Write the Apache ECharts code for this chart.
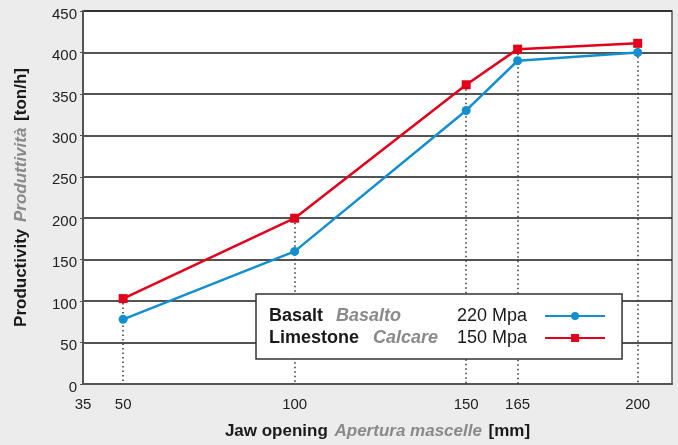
<!DOCTYPE html>
<html>
<head>
<meta charset="utf-8">
<script src="https://cdn.jsdelivr.net/npm/echarts@6/dist/echarts.min.js"></script>
<style>
  html, body { margin: 0; padding: 0; background: #ebeceb; }
  #chart { width: 678px; height: 445px; }
</style>
</head>
<body>
<div id="chart"></div>
<script>
// jaw opening [mm]
const jawOpening = [50, 100, 150, 165, 200];
// productivity [ton/h]
const basalt = [78, 160, 330, 390, 400];
const limestone = [103, 200, 361, 404, 411];
// x axis: left edge of the plot is labelled "35"
const xMin = 38.3;
const xMax = 210;
const xTickValues = [xMin, 50, 100, 150, 165, 200];
const xTickLabels = ["35", "50", "100", "150", "165", "200"];

const FONT = "Liberation Sans";
const blue = "#128ed1";
const red = "#e3001b";

const chart = echarts.init(document.getElementById("chart"));

const toPairs = (ys) => jawOpening.map((x, i) => [x, ys[i]]);
// dotted drop lines from the top point down to the x axis
const dropLines = jawOpening.map((x, i) => [
  { coord: [x, Math.max(basalt[i], limestone[i])] },
  { coord: [x, 0] },
]);

// legend text: english (bold), italian (italic grey), strength
const legendInfo = {
  Basalt: { it: "Basalto", mpa: "220 Mpa", key: "B" },
  Limestone: { it: "Calcare", mpa: "150 Mpa", key: "L" },
};

const nameRich = {
  b: { fontFamily: FONT, fontSize: 17, fontWeight: "bold", color: "#1a1a1a" },
  i: { fontFamily: FONT, fontSize: 17, fontWeight: "bold", fontStyle: "italic", color: "#8a8a8a" },
};

const legBold = { fontFamily: FONT, fontSize: 18, fontWeight: "bold", color: "#1a1a1a", lineHeight: 18, align: "left" };
const legIt = { fontFamily: FONT, fontSize: 18, fontWeight: "bold", fontStyle: "italic", color: "#8a8a8a", lineHeight: 18, align: "left" };

const option = {
  backgroundColor: "#ebeceb",
  animation: false,
  textStyle: { fontFamily: FONT },
  grid: {
    left: 83,
    right: 6,
    top: 11,
    bottom: 58,
    show: true,
    backgroundColor: "#ffffff",
    borderColor: "#555",
    borderWidth: 1.5,
  },
  xAxis: {
    type: "value",
    min: xMin,
    max: xMax,
    name: "{b|Jaw opening}  {i|Apertura mascelle}  {b|[mm]}",
    nameLocation: "middle",
    nameGap: 39,
    nameTextStyle: { rich: nameRich },
    axisLine: { show: true, lineStyle: { color: "#555", width: 2 } },
    axisTick: { show: false },
    splitLine: { show: false },
    axisLabel: {
      customValues: xTickValues,
      formatter: (v) => {
        const idx = xTickValues.findIndex((t) => Math.abs(t - v) < 1e-6);
        return idx >= 0 ? xTickLabels[idx] : "";
      },
      margin: 13,
      fontSize: 15,
      color: "#222",
      fontFamily: FONT,
    },
  },
  yAxis: {
    type: "value",
    min: 0,
    max: 450,
    interval: 50,
    name: "{b|Productivity}  {i|Produttività}  {b|[ton/h]}",
    nameLocation: "middle",
    nameGap: 53,
    nameRotate: 90,
    nameTextStyle: { rich: nameRich },
    axisLine: { show: true, lineStyle: { color: "#555", width: 2 } },
    axisTick: { show: true, length: 3, lineStyle: { color: "#555" } },
    splitLine: { show: true, lineStyle: { color: "#1a1a1a", width: 1.5 } },
    axisLabel: {
      margin: 6,
      formatter: (v) => "{n|" + v + "}",
      rich: {
        n: { fontSize: 15, color: "#222", fontFamily: FONT, lineHeight: 15, padding: [7, 0, 0, 0] },
      },
    },
  },
  legend: {
    orient: "vertical",
    left: 256,
    top: 294,
    align: "right",
    backgroundColor: "#ffffff",
    borderColor: "#333",
    borderWidth: 1.5,
    borderRadius: 0,
    padding: [13, 16, 12, 13],
    itemWidth: 60,
    itemHeight: 10,
    itemGap: 4,
    selectedMode: false,
    data: ["Basalt", "Limestone"],
    formatter: (name) => {
      const k = legendInfo[name].key;
      return "{b" + k + "|" + name + "}{i" + k + "|" + legendInfo[name].it + "}{v|" + legendInfo[name].mpa + "}";
    },
    textStyle: {
      fontFamily: FONT,
      fontSize: 18,
      rich: {
        bB: Object.assign({}, legBold, { width: 67 }),
        bL: Object.assign({}, legBold, { width: 104 }),
        iB: Object.assign({}, legIt, { width: 121 }),
        iL: Object.assign({}, legIt, { width: 84 }),
        v: { fontFamily: FONT, fontSize: 18, color: "#1a1a1a", lineHeight: 18, align: "left", padding: [0, 13, 0, 0] },
      },
    },
  },
  series: [
    {
      name: "Basalt",
      type: "line",
      data: toPairs(basalt),
      symbol: "circle",
      symbolSize: 9,
      lineStyle: { color: blue, width: 2.5 },
      itemStyle: { color: blue },
      z: 3,
    },
    {
      name: "Limestone",
      type: "line",
      data: toPairs(limestone),
      symbol: "rect",
      symbolSize: 9,
      lineStyle: { color: red, width: 2.5 },
      itemStyle: { color: red },
      z: 3,
      markLine: {
        silent: true,
        symbol: "none",
        label: { show: false },
        lineStyle: { color: "#333", type: [1.5, 3], width: 1.5 },
        data: dropLines,
        z: 1,
      },
    },
  ],
};

chart.setOption(option);
</script>
</body>
</html>
